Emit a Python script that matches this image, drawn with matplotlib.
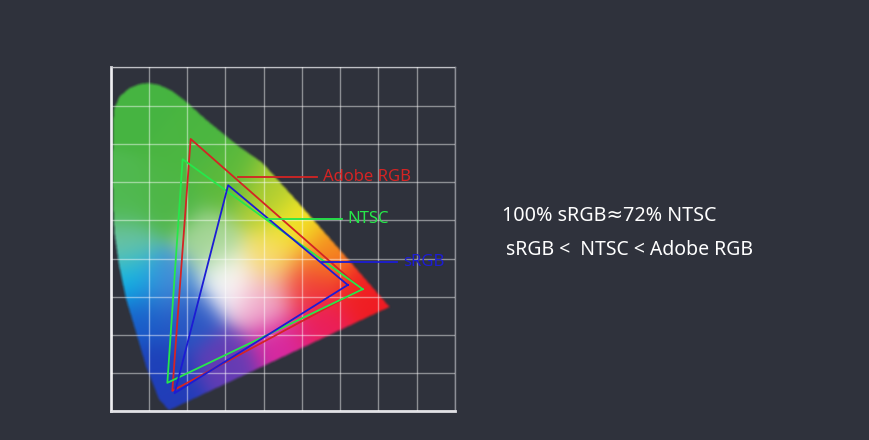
import matplotlib
matplotlib.use('Agg')
import matplotlib.pyplot as plt
import numpy as np
from matplotlib.path import Path

_bg = '#2f323c'
_c_adobe = '#d42424'
_c_ntsc = '#26e84a'
_c_srgb = '#1c1cd4'

# outline of the chromaticity horseshoe (CIE x, y)
locus_x = [0.151, 0.125, 0.091, 0.065, 0.039, 0.021, 0.008, 0.004, 0.003, 0.004,
           0.006, 0.022, 0.048, 0.074, 0.096, 0.126, 0.161, 0.195, 0.248, 0.334,
           0.396, 0.495, 0.612, 0.729]
locus_y = [0.001, 0.030, 0.116, 0.205, 0.292, 0.378, 0.467, 0.553, 0.632, 0.719,
           0.789, 0.824, 0.846, 0.856, 0.859, 0.854, 0.837, 0.811, 0.763, 0.693,
           0.650, 0.540, 0.407, 0.272]

# gamut triangles: red, green, blue primaries
adobe_x = [0.656, 0.209, 0.161]
adobe_y = [0.320, 0.713, 0.054]
ntsc_x = [0.659, 0.188, 0.148]
ntsc_y = [0.320, 0.660, 0.075]
srgb_x = [0.620, 0.307, 0.167]
srgb_y = [0.331, 0.592, 0.048]

# label leaders: start x, end x, y
adobe_lead = (0.333, 0.539, 0.614)
ntsc_lead = (0.409, 0.604, 0.504)
srgb_lead = (0.552, 0.748, 0.391)

# colour anchors of the fill (x, y, colour) - looks of the picture
_anchors = [
    (0.08, 0.80, (70, 180, 65)),
    (0.20, 0.70, (75, 182, 65)),
    (0.03, 0.55, (80, 185, 80)),
    (0.15, 0.55, (78, 182, 70)),
    (0.30, 0.60, (90, 185, 60)),
    (0.40, 0.55, (175, 205, 50)),
    (0.48, 0.48, (245, 232, 35)),
    (0.56, 0.41, (245, 140, 30)),
    (0.66, 0.32, (240, 35, 35)),
    (0.72, 0.27, (240, 25, 35)),
    (0.03, 0.43, (110, 195, 165)),
    (0.05, 0.34, (10, 185, 235)),
    (0.08, 0.25, (25, 90, 200)),
    (0.13, 0.10, (30, 65, 185)),
    (0.17, 0.02, (35, 60, 185)),
    (0.20, 0.24, (40, 85, 195)),
    (0.15, 0.33, (70, 140, 215)),
    (0.30, 0.12, (100, 60, 180)),
    (0.45, 0.17, (215, 40, 160)),
    (0.55, 0.22, (235, 30, 90)),
    (0.31, 0.34, (252, 252, 252)),
    (0.26, 0.44, (165, 214, 150)),
    (0.40, 0.29, (240, 170, 205)),
    (0.42, 0.40, (248, 222, 110)),
    (0.52, 0.33, (240, 55, 55)),
]

plt.rcParams['font.family'] = ['Noto Sans', 'DejaVu Sans']


def _fill_colors(xx, yy, sigma=0.07):
    wsum = np.zeros_like(xx)
    acc = np.zeros(xx.shape + (3,))
    for ax_, ay_, c in _anchors:
        w = np.exp(-((xx - ax_) ** 2 + (yy - ay_) ** 2) / sigma ** 2) + 1e-12
        wsum += w
        acc += w[..., None] * (np.array(c) / 255.0)
    return np.clip(acc / wsum[..., None], 0, 1)


def _soften(mask, k=5):
    kern = np.ones(k) / k
    m = np.apply_along_axis(lambda r: np.convolve(r, kern, mode='same'), 1, mask)
    m = np.apply_along_axis(lambda r: np.convolve(r, kern, mode='same'), 0, m)
    return m


fig = plt.figure(figsize=(8.69, 4.40), dpi=100, facecolor=_bg)
ax = fig.add_axes([0.1266, 0.0648, 0.3976, 0.7818])
ax.set_facecolor(_bg)

n = 500
gx, gy = np.meshgrid(np.linspace(0, 0.9, n), np.linspace(0, 0.9, n))
colors = _fill_colors(gx, gy)
outline = np.column_stack([locus_x, locus_y])
inside = Path(outline).contains_points(
    np.column_stack([gx.ravel(), gy.ravel()])).reshape(gx.shape)
alpha = _soften(inside.astype(float))
rgba = np.dstack([colors, alpha])
ax.imshow(rgba, extent=(0, 0.9, 0, 0.9), origin='lower',
          interpolation='bilinear', zorder=1)

for xs, ys, c in [(adobe_x, adobe_y, _c_adobe),
                  (ntsc_x, ntsc_y, _c_ntsc),
                  (srgb_x, srgb_y, _c_srgb)]:
    ax.plot(xs + xs[:1], ys + ys[:1], color=c, linewidth=1.3, zorder=3)

for (x0, x1, y), c, txt in [(adobe_lead, _c_adobe, 'Adobe RGB'),
                            (ntsc_lead, _c_ntsc, 'NTSC'),
                            (srgb_lead, _c_srgb, 'sRGB')]:
    ax.plot([x0, x1], [y, y], color=c, linewidth=1.3, zorder=3)
    ax.text(x1 + 0.016, y, txt, color=c, fontsize=12, va='center',
            ha='left', zorder=4)

ax.set_xlim(0, 0.9)
ax.set_ylim(0, 0.9)
ax.set_xticks(np.arange(0, 0.91, 0.1))
ax.set_yticks(np.arange(0, 0.91, 0.1))
ax.tick_params(length=0, labelbottom=False, labelleft=False)
ax.set_axisbelow(False)
ax.grid(True, color='white', alpha=0.45, linewidth=1.0)
for s in ['top', 'right']:
    ax.spines[s].set_color('#8c8e96')
    ax.spines[s].set_linewidth(1.0)
for s in ['left', 'bottom']:
    ax.spines[s].set_color('#e2e2e6')
    ax.spines[s].set_linewidth(2.0)

fig.text(0.578, 0.509, '100% sRGB≈72% NTSC', fontsize=14.2, color='white',
         va='center', ha='left')
fig.text(0.582, 0.432, 'sRGB <  NTSC < Adobe RGB', fontsize=14, color='white',
         va='center', ha='left')

fig.savefig('out.png', dpi=100, facecolor=_bg)
